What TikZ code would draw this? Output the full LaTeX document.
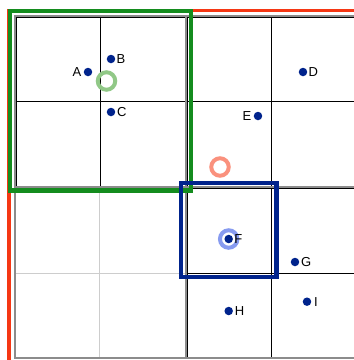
\documentclass[tikz,border=0pt]{standalone}
\usepackage{fontspec}
\setmainfont{Liberation Sans}
\usetikzlibrary{positioning}
\definecolor{qtnavy}{RGB}{0,35,140}
\definecolor{qtgreen}{RGB}{20,140,30}
\definecolor{qtred}{RGB}{245,55,20}
\definecolor{qtmint}{RGB}{145,200,135}
\definecolor{qtsalmon}{RGB}{250,145,125}
\definecolor{qtsky}{RGB}{135,155,240}
\definecolor{qtgray}{RGB}{140,140,140}
\definecolor{qtlight}{RGB}{205,205,205}

\begin{document}
\begin{tikzpicture}[
  x=1pt, y=-1pt,
  quad/.style={draw=qtgray, line width=1.6pt},
  split/.style={draw=black, line width=0.9pt},
  empty/.style={draw=qtlight, line width=1pt},
  pt/.style={circle, fill=qtnavy, inner sep=0pt, minimum size=8.5pt},
  lbl/.style={inner sep=1pt, font=\fontsize{13}{13}\selectfont},
  ring/.style={circle, line width=4pt, inner sep=0pt, minimum size=17.5pt},
  qbox/.style={line width=4.5pt},
]
  \useasboundingbox (0,0) rectangle (354,360);
  \clip (0,0) rectangle (354,360);

  % Grid
  \draw[empty] (100,188) -- (100,357);
  \draw[empty] (16,273) -- (185,273);
  \draw[split] (16.5,17.5) rectangle (185,186);
  \draw[split] (100,17.5) -- (100,186);
  \draw[split] (16.5,101) -- (185,101);
  \draw[split] (187.5,17.5) rectangle (356,186);
  \draw[split] (271.5,17.5) -- (271.5,186);
  \draw[split] (187.5,101) -- (356,101);
  \draw[split] (187.5,188.5) rectangle (356,357);
  \draw[split] (271.5,188.5) -- (271.5,357);
  \draw[split] (187.5,273) -- (356,273);
  \draw[quad] (15,16) rectangle (357,358);
  \draw[quad] (186,16) -- (186,358);
  \draw[quad] (15,187) -- (357,187);

  % Query ranges
  \draw[qbox, qtred, line width=3.5pt] (9,370) -- (9,10.5) -- (370,10.5);
  \draw[qbox, qtgreen] (10,11) rectangle (191,190.5);
  \draw[qbox, qtnavy] (181,183) rectangle (276.5,277);

  % Rings
  \node[ring, draw=qtmint] (ringa) at (106.5,81) {};
  \node[ring, draw=qtsalmon] (ringb) at (220,167) {};
  \node[ring, draw=qtsky] (ringc) at (228.7,239) {};

  % Points
  \node[pt] (a) at (88,72) {};
  \node[pt] (b) at (111,59) {};
  \node[pt] (c) at (111,112) {};
  \node[pt] (d) at (303,72) {};
  \node[pt] (e) at (258,116) {};
  \node[pt] (f) at (228.7,239) {};
  \node[pt] (g) at (295,262) {};
  \node[pt] (h) at (228.7,311) {};
  \node[pt] (i) at (307,301.7) {};

  % Labels
  \node[lbl, left=1pt of a] (alab) {A};
  \node[lbl, right=0pt of b] (blab) {B};
  \node[lbl, right=0.5pt of c] (clab) {C};
  \node[lbl, right=0pt of d] (dlab) {D};
  \node[lbl, left=1pt of e] (elab) {E};
  \node[lbl, right=0pt of f] (flab) {F};
  \node[lbl, right=0.5pt of g] (glab) {G};
  \node[lbl, right=0.5pt of h] (hlab) {H};
  \node[lbl, right=1.5pt of i] (ilab) {I};
\end{tikzpicture}
\end{document}
